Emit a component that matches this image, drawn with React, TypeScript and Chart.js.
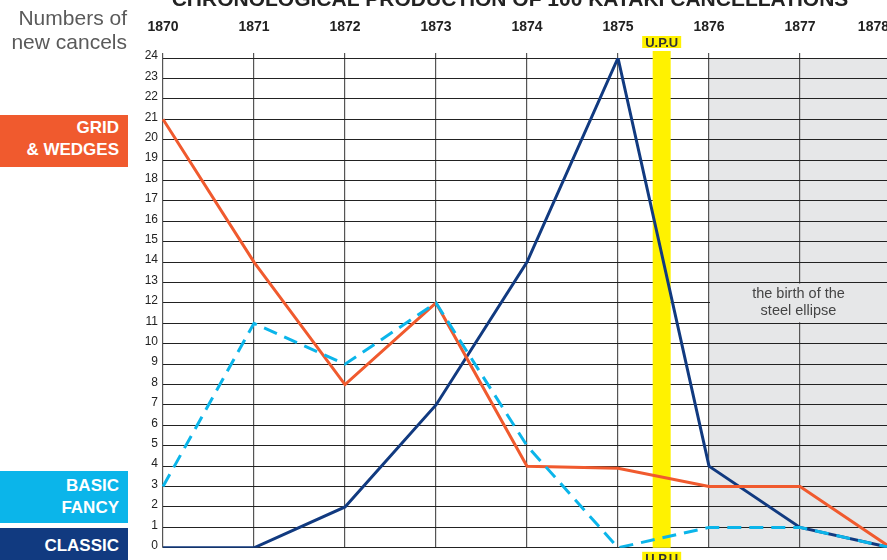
import React, { useEffect, useRef } from "react";
import { Chart, registerables } from "chart.js";

Chart.register(...registerables);

// ---- data ----
const years = ["1870", "1871", "1872", "1873", "1874", "1875", "1876", "1877", "1878"];
const gridWedges = [21, 14, 8, 12, 4, 3.9, 3, 3, 0];
const basicFancy = [3, 11, 9, 12, 5, 0, 1, 1, 0];
const classic = [0, 0, 2, 7, 14, 24, 4, 1, 0];
const yMax = 24;
const upuPosition = 5.48; // between 1875 and 1876 (category index)
const upuLabel = "U.P.U";
const shadeFromIndex = 6; // 1876 onward
const noteLines = ["the birth of the", "steel ellipse"];
const noteRange = [11, 13];
const titleText = "CHRONOLOGICAL PRODUCTION OF 100 KATAKI CANCELLATIONS";

const ORANGE = "#f05a2e";
const LIGHT = "#0bb5ea";
const DARK = "#113a80";
const FONT = "'Liberation Sans', Arial, Helvetica, sans-serif";
const VIEW_W = 887;

const decorPlugin = {
  id: "decor",
  beforeDraw(chart: any) {
    const { ctx, chartArea, scales } = chart;
    const x = scales.x;
    const x0 = x.getPixelForValue(shadeFromIndex);
    ctx.save();
    ctx.fillStyle = "#e6e7e8";
    ctx.fillRect(x0, chartArea.top, chartArea.right - x0, chartArea.bottom - chartArea.top);
    ctx.restore();
  },
  beforeDatasetsDraw(chart: any) {
    const { ctx, chartArea, scales } = chart;
    const x = scales.x;
    const y = scales.y;
    ctx.save();
    // note box
    const x0 = x.getPixelForValue(shadeFromIndex) + 1;
    const yTop = y.getPixelForValue(noteRange[1]) + 1;
    const yBot = y.getPixelForValue(noteRange[0]) - 1;
    ctx.fillStyle = "#e6e7e8";
    ctx.fillRect(x0, yTop, chartArea.right - x0, yBot - yTop);
    ctx.fillStyle = "#444";
    ctx.font = `14.5px ${FONT}`;
    ctx.textAlign = "center";
    ctx.textBaseline = "alphabetic";
    const cx = (x0 + VIEW_W) / 2;
    ctx.fillText(noteLines[0], cx, yTop + 15);
    ctx.fillText(noteLines[1], cx, yTop + 32);
    // UPU band
    const ux = x.getPixelForValue(upuPosition);
    ctx.fillStyle = "#fff200";
    ctx.fillRect(ux - 9, chartArea.top - 7, 18, chartArea.bottom - chartArea.top + 7);
    ctx.restore();
  },
  afterDraw(chart: any) {
    const { ctx, chartArea, scales } = chart;
    const x = scales.x;
    ctx.save();
    // title (cut off at top)
    ctx.fillStyle = "#222";
    ctx.font = `bold 21px ${FONT}`;
    ctx.textAlign = "center";
    ctx.textBaseline = "alphabetic";
    ctx.fillText(titleText, 510, 6, 745);
    // year labels
    ctx.font = `bold 14px ${FONT}`;
    years.forEach((yr, i) => {
      const w = ctx.measureText(yr).width;
      let px = x.getPixelForValue(i);
      px = Math.min(px, VIEW_W - w / 2 + 2);
      ctx.fillText(yr, px, 31);
    });
    // UPU labels
    const ux = x.getPixelForValue(upuPosition);
    ctx.font = `bold 13px ${FONT}`;
    const tw = ctx.measureText(upuLabel).width;
    ctx.fillStyle = "#fff200";
    ctx.fillRect(ux - tw / 2 - 3, 36, tw + 6, 12);
    ctx.fillRect(ux - tw / 2 - 3, chartArea.bottom + 4, tw + 6, 12);
    ctx.fillStyle = "#333";
    ctx.fillText(upuLabel, ux, 47);
    ctx.fillText(upuLabel, ux, chartArea.bottom + 15);
    ctx.restore();
  },
};

export default function App() {
  const ref = useRef<HTMLCanvasElement | null>(null);

  useEffect(() => {
    if (!ref.current) return;
    const chart = new Chart(ref.current, {
      type: "line",
      data: {
        labels: years,
        datasets: [
          {
            label: "BASIC FANCY",
            data: basicFancy,
            borderColor: LIGHT,
            borderWidth: 3,
            borderDash: [14, 8],
            pointRadius: 0,
            tension: 0,
            fill: false,
          },
          {
            label: "GRID & WEDGES",
            data: gridWedges,
            borderColor: ORANGE,
            borderWidth: 3,
            pointRadius: 0,
            tension: 0,
            fill: false,
          },
          {
            label: "CLASSIC",
            data: classic,
            borderColor: DARK,
            borderWidth: 3,
            pointRadius: 0,
            tension: 0,
            borderJoinStyle: "miter",
            fill: false,
          },
        ],
      },
      options: {
        responsive: false,
        animation: false,
        layout: { padding: { top: 53, right: 1, bottom: 12, left: 0 } },
        plugins: { legend: { display: false }, tooltip: { enabled: false } },
        scales: {
          x: {
            position: "top",
            offset: false,
            ticks: { display: false },
            border: { display: false },
            grid: { color: "#555", lineWidth: 1.2, drawTicks: true, tickLength: 5 },
          },
          y: {
            min: 0,
            max: yMax,
            ticks: {
              stepSize: 1,
              color: "#222",
              font: { size: 12, family: FONT },
              padding: 5,
              labelOffset: -2,
            },
            border: { display: false },
            grid: { color: "#222", lineWidth: 1, drawTicks: false },
            afterFit(scale: any) {
              scale.width = 163;
            },
          },
        },
      },
      plugins: [decorPlugin],
    } as any);
    return () => chart.destroy();
  }, []);

  const box = (top: number, height: number, bg: string, pt: number): React.CSSProperties => ({
    position: "absolute",
    left: 0,
    top,
    width: 128,
    height,
    background: bg,
    color: "#fff",
    fontFamily: FONT,
    fontWeight: "bold",
    fontSize: 17,
    lineHeight: "22px",
    textAlign: "right",
    boxSizing: "border-box",
    paddingRight: 9,
    paddingTop: pt,
  });

  return (
    <div
      style={{
        position: "fixed",
        left: 0,
        top: 0,
        width: VIEW_W,
        height: 560,
        overflow: "hidden",
        background: "#fff",
      }}
    >
      <canvas ref={ref} width={892} height={560} style={{ position: "absolute", left: 0, top: 0 }} />
      <div
        style={{
          position: "absolute",
          left: 0,
          top: 6,
          width: 127,
          textAlign: "right",
          fontFamily: FONT,
          fontSize: 21,
          lineHeight: "24px",
          color: "#5a5a5a",
        }}
      >
        Numbers of
        <br />
        new cancels
      </div>
      <div style={box(115, 52, ORANGE, 2)}>
        GRID
        <br />& WEDGES
      </div>
      <div style={box(471, 52, LIGHT, 4)}>
        BASIC
        <br />
        FANCY
      </div>
      <div style={box(528, 40, DARK, 7)}>CLASSIC</div>
    </div>
  );
}
